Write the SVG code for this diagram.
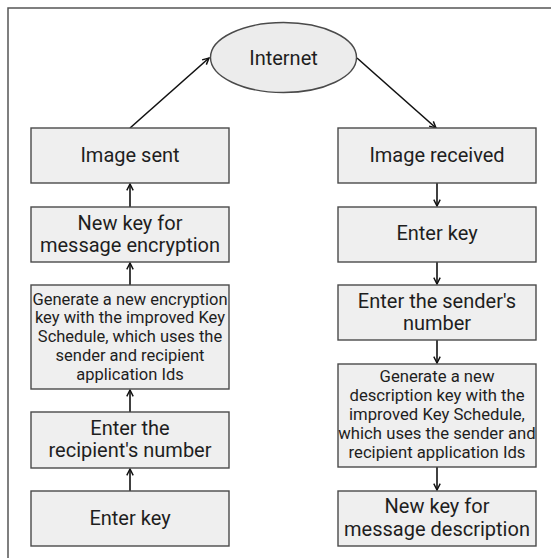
<svg xmlns="http://www.w3.org/2000/svg" width="551" height="558" viewBox="0 0 551 558">
<style>
.box{fill:#efefef;stroke:#4a4a4a;stroke-width:1.4}
.t{font-family:Roboto,"Liberation Sans",sans-serif;font-size:20px;fill:#1e1e1e;text-anchor:middle}
.s{font-family:Roboto,"Liberation Sans",sans-serif;font-size:16.5px;fill:#1e1e1e;text-anchor:middle}
.c{fill:none;stroke:#111;stroke-width:1.6}
</style>
<defs>
<marker id="ah" viewBox="0 0 10 10" refX="9" refY="5" markerWidth="8" markerHeight="8" markerUnits="userSpaceOnUse" orient="auto">
<path d="M1,1 L9,5 L1,9" fill="none" stroke="#111" stroke-width="1.8"/>
</marker>
</defs>
<rect width="551" height="558" fill="#fff"/>
<path d="M8,558 V8 H551" fill="none" stroke="#555" stroke-width="1.5"/>
<g id="connectors">
<path class="c" d="M130,128 L209,58" marker-end="url(#ah)"/>
<path class="c" d="M357,58 L436,128" marker-end="url(#ah)"/>
<path class="c" d="M130,207 V184" marker-end="url(#ah)"/>
<path class="c" d="M130,285 V263" marker-end="url(#ah)"/>
<path class="c" d="M130,412 V390" marker-end="url(#ah)"/>
<path class="c" d="M130,491 V469" marker-end="url(#ah)"/>
<path class="c" d="M437,183 V206" marker-end="url(#ah)"/>
<path class="c" d="M437,262 V284" marker-end="url(#ah)"/>
<path class="c" d="M437,340 V363" marker-end="url(#ah)"/>
<path class="c" d="M437,467 V490" marker-end="url(#ah)"/>
</g>
<g id="internet">
<ellipse cx="283.5" cy="57.5" rx="73" ry="35" fill="#ececec" stroke="#4a4a4a" stroke-width="1.4"/>
<text class="t" x="283.5" y="65">Internet</text>
</g>
<g id="image-sent">
<rect class="box" x="31" y="128" width="198" height="55"/>
<text class="t" x="130" y="162">Image sent</text>
</g>
<g id="new-key-encryption">
<rect class="box" x="31" y="207" width="198" height="55"/>
<text class="t" x="130" y="230">New key for</text>
<text class="t" x="130" y="252">message encryption</text>
</g>
<g id="generate-encryption">
<rect class="box" x="31" y="285" width="198" height="104"/>
<text class="s" x="130" y="304.5">Generate a new encryption</text>
<text class="s" x="130" y="323">key with the improved Key</text>
<text class="s" x="130" y="341.5">Schedule, which uses the</text>
<text class="s" x="130" y="360.5">sender and recipient</text>
<text class="s" x="130" y="379.5">application Ids</text>
</g>
<g id="enter-recipient">
<rect class="box" x="31" y="412" width="198" height="56"/>
<text class="t" x="130" y="435">Enter the</text>
<text class="t" x="130" y="457">recipient's number</text>
</g>
<g id="enter-key-left">
<rect class="box" x="31" y="491" width="198" height="55"/>
<text class="t" x="130" y="525">Enter key</text>
</g>
<g id="image-received">
<rect class="box" x="338" y="128" width="198" height="55"/>
<text class="t" x="437" y="162">Image received</text>
</g>
<g id="enter-key-right">
<rect class="box" x="338" y="207" width="198" height="55"/>
<text class="t" x="437" y="240">Enter key</text>
</g>
<g id="enter-sender">
<rect class="box" x="338" y="285" width="198" height="55"/>
<text class="t" x="437" y="308">Enter the sender's</text>
<text class="t" x="437" y="330">number</text>
</g>
<g id="generate-description">
<rect class="box" x="338" y="364" width="198" height="103"/>
<text class="s" x="437" y="382" style="font-size:16.7px">Generate a new</text>
<text class="s" x="437" y="401" style="font-size:16.7px">description key with the</text>
<text class="s" x="437" y="420" style="font-size:16.7px">improved Key Schedule,</text>
<text class="s" x="437" y="439" style="font-size:16.7px">which uses the sender and</text>
<text class="s" x="437" y="458" style="font-size:16.7px">recipient application Ids</text>
</g>
<g id="new-key-description">
<rect class="box" x="338" y="491" width="198" height="55"/>
<text class="t" x="437" y="513">New key for</text>
<text class="t" x="437" y="535.5">message description</text>
</g>
</svg>
